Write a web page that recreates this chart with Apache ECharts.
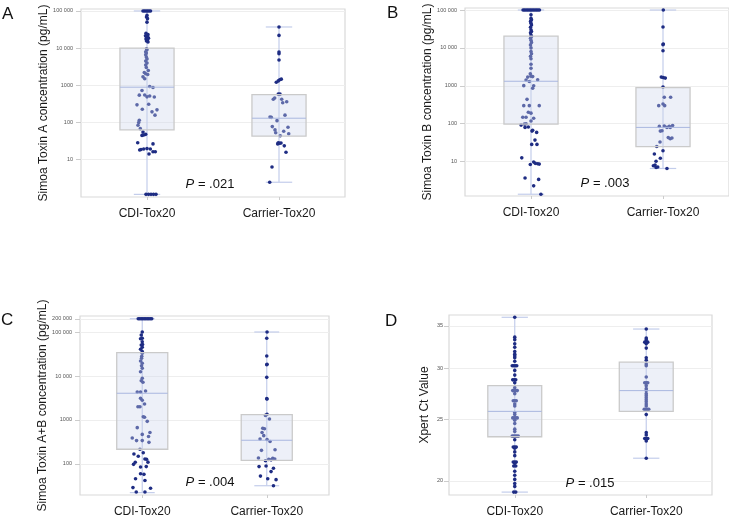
<!DOCTYPE html>
<html><head><meta charset="utf-8">
<script src="https://cdn.jsdelivr.net/npm/echarts@6/dist/echarts.min.js"></script>
<style>html,body{margin:0;padding:0;background:#fff}#c{width:729px;height:519px}</style>
</head><body><div id="c"></div>
<script>
const categories = ['CDI-Tox20', 'Carrier-Tox20'];

// tick labels
const ticksA = [10, 100, 1000, 10000, 100000];
const ticksB = [10, 100, 1000, 10000, 100000];
const ticksC = [100, 1000, 10000, 100000, 200000];
const ticksD = [20, 25, 30, 35];

// box stats [min, Q1, median, Q3, max]
const boxA_CDI = [1.13, 62, 880, 10000, 100000];
const boxA_Car = [2.4, 42, 128, 557, 37000];
const boxB_CDI = [1.38, 98, 1320, 20500, 100000];
const boxB_Car = [6.6, 25, 80, 895, 100000];
const boxC_CDI = [22.3, 216, 4050, 33900, 200000];
const boxC_Car = [32, 121, 346, 1320, 100000];
const boxD_CDI = [19.2, 23.45, 25.7, 28.2, 36.1];
const boxD_Car = [21.7, 25.7, 27.7, 30.7, 34.6];

// individual values
const valsA_CDI = [100000,100000,100000,100000,100000,100000,
  76000,69000,62000,50000,
  25000,23000,21500,20000,19000,18500,17500,16500,15500,14500,
  9500,9000,7900,7300,6600,5700,5100,4450,3940,3470,2990,2480,
  2190,2020,1940,1670,1480,917,860,714,537,540,483,510,480,
  294,224,306,190,215,155,113,98,83,67,54,47,45,44,
  28,26,17.8,18.4,19,19.4,19,16,13.9,16,
  1.13,1.13,1.13,1.13,1.13];
const valsA_Car = [37000,21900,7800,7000,4740,1200,1300,1390,1450,570,570,417,450,417,333,355,
  155,137,135,110,76,62,52,57,73,49,43,28,27,26,27.5,23,15.5,6.2,2.4];
const valsB_CDI = [100000,100000,100000,100000,100000,100000,100000,100000,100000,100000,100000,100000,
  75000,60000,55000,50000,45000,40000,35000,30000,27000,25000,22000,20000,18000,16000,14000,12000,10000,
  8000,7000,6000,5200,3700,2900,2070,1800,1700,1750,1430,1300,1450,1010,1000,860,
  440,300,300,300,200,190,148,148,140,118,92,98,100,82,80,
  64,67,59,37,28.5,28.5,12.6,8.4,9.8,9,8.8,8.6,3.7,3.4,2.3,1.38];
const valsB_Car = [100000,35500,12600,12200,8400,1700,1650,1600,930,500,500,300,330,300,
  87,85,80,85,90,80,65,64,43,40,42,33,25,19.3,15.9,12.3,10.2,8.1,7.8,7.2,7.0,6.6];
const valsC_CDI = [200000,200000,200000,200000,200000,200000,200000,200000,200000,200000,
  100000,85000,72000,70000,60000,52000,50600,45000,40600,36000,32800,28000,25300,21900,19500,17000,15000,12500,
  8900,7800,7200,4300,4300,4550,3100,2800,2300,2000,2000,1180,1150,930,
  670,520,470,420,390,340,340,310,216,168,180,150,130,128,110,109,98,85,87,
  60,58,46,42,29,28,23,23];
const valsC_Car = [100000,72000,28500,18500,18000,9300,3050,3000,1270,1350,1050,650,630,520,440,370,360,325,
  204,210,137,118,127,124,135,130,87,90,80,67,53,46,44,32];
const valsD_CDI = [36.1,33.6,33.3,32.8,32.4,31.9,31.6,31.4,31.2,30.8,
  30.3,30.3,30.3,30.3,29.8,29.3,28.8,28.8,28.8,28.5,28.0,
  27.7,27.7,27.7,27.7,27.4,26.7,26.7,26.7,26.4,26.2,25.6,25.4,
  25.1,25.1,25.1,25.1,24.9,24.6,24.1,23.9,
  23.5,23.5,23.5,23.5,23.5,23.2,22.6,22.6,22.6,22.5,22.2,21.9,
  21.4,21.4,21.4,21.3,21.1,21.1,20.7,20.4,20.1,19.8,19.6,19.2,19.2];
const valsD_Car = [34.6,33.5,33.3,33.0,33.0,33.0,32.8,32.3,31.2,30.9,30.5,30.3,
  29.1,28.5,28.5,28.5,28.2,27.9,27.7,27.4,27.2,27.0,26.8,26.6,26.4,26.2,
  25.9,25.9,25.9,25.9,25.4,23.8,23.6,23.3,23.3,23.3,23.1,21.7];

// horizontal jitter of each point (px)
const jitA_CDI = [-4,-2.5,-1,0.5,2,3.5,
  0,-0.5,0.5,0,
  -1,1,-1.5,0.5,-0.5,1.5,-1,0.5,-0.5,1,
  -0.5,0,-1.3,-0.7,-1.3,-0.7,0,-1.3,0,-1.3,-0.7,1.3,
  -2.7,-1.3,0.7,-4,-2.3,2.7,6,-5,-7.7,-2.3,0,2.7,7.3,
  -10,-4.7,1.7,5,10,8,-7.7,-8.3,-9,-6.7,-4,-1.3,-3.3,-5,
  -9.3,6,-7.3,-6,-3.3,0,3.3,6,2,8.3,
  -1,1.5,4,6.5,9];
const jitA_Car = [0,0,0,0,0,-2.7,-0.7,0.7,2.3,-0.7,1,-5.7,-4.3,2.7,3.7,7.7,
  6,-9,-7.7,-2,-6.7,-4,-3.3,4.7,9,9.7,1.3,-0.7,0.7,-1.3,2,5.3,7,-7,-9.3];
const jitB_CDI = [-8,-6.5,-5,-3.5,-2,-0.5,1,2.5,4,5.5,7,8.5,
  0,0,0.5,-0.5,0,0.5,-0.5,0,0.5,-0.5,0,0.5,-0.5,0,0.5,-0.5,0,
  0,0.5,-0.5,0,0,0,-0.7,0,-3.3,1.7,-5,-1.7,6.7,-7.3,2.7,1.7,
  -4,-7.3,-1.7,8.3,-2.7,0,-8.3,-5,2.7,0,-10,-6.7,-5,-2.7,-6,
  1,1.7,5.7,4,0.7,6,-9.3,-0.7,2.7,4.3,6.7,8.3,-6,7.7,2.7,10];
const jitB_Car = [0.3,0,0.3,0,0,-1.7,0.3,2.3,0,1.3,7.7,-4.3,0,1.7,
  1.3,-3.7,4,6.3,9.7,7.3,-1,-2.7,5.3,7.3,9,-3,-6.3,0,-8.7,-2.7,-7,-8,-9.7,-5.3,-7,4];
const jitC_CDI = [-4,-2.5,-1,0.5,2,3.5,5,6.5,8,9.5,
  0,-1,0,-1.7,0,0.3,-1,0,-1.7,0,0,-0.5,-0.7,-1.7,0,-0.7,0,-1.7,
  0,-1,0.7,-1.7,-5,3.3,-1.7,0,2.3,-4.3,-2.3,1,2.3,5,
  -5,7.7,0,6.3,-10,-5.7,0,6.7,-2.3,-8.3,1,-4,2.7,4.3,5.7,-7,-8.7,-1.7,4,
  -1.7,1.7,-6.7,2.7,-9.3,8.3,-6,2.7];
const jitC_Car = [0.3,0,0,0.3,0,0,0,0.3,-1.3,0.3,2.7,-4,-2.3,-4.7,-3,-6.7,0.3,3.3,
  -5.3,8.3,-8.3,-1.3,2,4.3,6,8,-7.7,-0.7,6.7,4.3,-6.3,1,9.3,6.7];
const jitD_CDI = [0,0,0,0,0,0,0,0,0,0,
  -2.5,-1,0.5,2,0,0,-2,-0.5,1,0,0,
  -2,-0.5,1,2.5,0,-1.5,0,1.5,0,0,0,0,
  -2,-0.5,1,2.5,0,0,0,0,
  -2.5,-1,0.5,2,3.5,0,-1.5,0,1.5,0,0,0,
  -1.5,0,1.5,0,-1,1,0,0,0,0,0,-1,1];
const jitD_Car = [0,0,0,-1.5,0,1.5,0,0,0,0,0,0,
  0,-1.5,0,1.5,0,0,0,0,0,0,0,0,0,0,
  -2,-0.5,1,2.5,0,0,0,-1.5,0,1.5,0,0];

const pTexts = ['.021', '.003', '.004', '.015'];

const panels = [
  {grid:{left:81, top:9, width:264, height:188}, yMin:0.96, yMax:113000, ticks:ticksA,
   name:'Simoa Toxin A concentration (pg/mL)', nameGap:30, lm:8,
   boxes:[boxA_CDI, boxA_Car], vals:[valsA_CDI, valsA_Car], jit:[jitA_CDI, jitA_Car],
   letter:'A', lx:2, ly:14, px:210, py:184},
  {grid:{left:465, top:8, width:266, height:188}, yMin:1.24, yMax:113000, ticks:ticksB,
   name:'Simoa Toxin B concentration (pg/mL)', nameGap:31, lm:8,
   boxes:[boxB_CDI, boxB_Car], vals:[valsB_CDI, valsB_Car], jit:[jitB_CDI, jitB_Car],
   letter:'B', lx:387, ly:13, px:605, py:183},
  {grid:{left:80, top:316, width:249, height:179}, yMin:19.7, yMax:231000, ticks:ticksC,
   name:'Simoa Toxin A+B concentration (pg/mL)', nameGap:29, lm:8,
   boxes:[boxC_CDI, boxC_Car], vals:[valsC_CDI, valsC_Car], jit:[jitC_CDI, jitC_Car],
   letter:'C', lx:1, ly:320, px:210, py:482},
  {grid:{left:449, top:315, width:263, height:180}, yMin:19.0, yMax:36.4, ticks:ticksD,
   name:'Xpert Ct Value', nameGap:18, lm:6,
   boxes:[boxD_CDI, boxD_Car], vals:[valsD_CDI, valsD_Car], jit:[jitD_CDI, jitD_Car],
   letter:'D', lx:385, ly:321, px:590, py:483}
];

function fmtTick(v) {
  const n = Math.round(v);
  const s = String(n);
  return n >= 10000 ? s.slice(0, -3) + ' ' + s.slice(-3) : s;
}

function whiskerItem(params, api) {
  const c = api.value(0);
  const pMin = api.coord([c, api.value(1)]);
  const pMax = api.coord([c, api.value(5)]);
  const band = params.coordSys.width / 2;
  const cap = band * 0.2 / 2;
  const st = {stroke:'#c3cdeb', lineWidth:1.2};
  return {type:'group', children:[
    {type:'line', shape:{x1:pMin[0], y1:pMin[1], x2:pMax[0], y2:pMax[1]}, style:st},
    {type:'line', shape:{x1:pMin[0]-cap, y1:pMin[1], x2:pMin[0]+cap, y2:pMin[1]}, style:st},
    {type:'line', shape:{x1:pMax[0]-cap, y1:pMax[1], x2:pMax[0]+cap, y2:pMax[1]}, style:st}
  ]};
}
function boxItem(params, api) {
  const c = api.value(0);
  const q1 = api.coord([c, api.value(2)]);
  const md = api.coord([c, api.value(3)]);
  const q3 = api.coord([c, api.value(4)]);
  const band = params.coordSys.width / 2;
  const hw = band * 0.41 / 2;
  return {type:'group', children:[
    {type:'rect', shape:{x:q1[0]-hw, y:q3[1], width:hw*2, height:q1[1]-q3[1]},
     style:{fill:'rgba(204,213,236,0.36)', stroke:'#cacaca', lineWidth:1.3}},
    {type:'line', shape:{x1:md[0]-hw, y1:md[1], x2:md[0]+hw, y2:md[1]},
     style:{stroke:'#a9b7df', lineWidth:1}}
  ]};
}

const option = {
  animation:false,
  backgroundColor:'#fff',
  grid:[], xAxis:[], yAxis:[], series:[], graphic:[]
};
const baseFont = 'Liberation Sans, Arial, sans-serif';

panels.forEach((p, i) => {
  option.grid.push(Object.assign({show:true, borderColor:'#d9d9d9', borderWidth:1.2, backgroundColor:'transparent'}, p.grid));
  option.xAxis.push({type:'category', gridIndex:i, data:categories,
    axisLine:{show:false},
    axisTick:{show:true, alignWithLabel:true, length:3, lineStyle:{color:'#cccccc'}},
    axisLabel:{fontSize:12, color:'#1a1a1a', margin:11, fontFamily:baseFont},
    splitLine:{show:false}});
  option.xAxis.push({type:'value', gridIndex:i, min:0, max:2, show:false});
  option.yAxis.push({type:'log', gridIndex:i, min:p.yMin, max:p.yMax, logBase:10,
    name:p.name, nameLocation:'middle', nameGap:p.nameGap,
    nameTextStyle:{fontSize:12, color:'#1a1a1a', fontFamily:baseFont},
    axisLine:{show:false},
    axisTick:{show:true, length:5, lineStyle:{color:'#cccccc'}, customValues:p.ticks},
    axisLabel:{fontSize:5.5, color:'#555', margin:p.lm, fontFamily:baseFont, customValues:p.ticks,
      formatter:(v) => fmtTick(v)},
    splitLine:{show:true, lineStyle:{color:'#eeeeee', width:1}}});

  const boxData = p.boxes.map((b, k) => [k].concat(b));
  option.series.push({type:'custom', xAxisIndex:2*i, yAxisIndex:i, z:2,
    renderItem:whiskerItem, data:boxData, encode:{x:0, y:[1,2,3,4,5]}, silent:true});
  const band = p.grid.width / 2;
  const pts = [];
  p.vals.forEach((arr, k) => {
    arr.forEach((v, j) => pts.push([k + 0.5 + p.jit[k][j] / band, v]));
  });
  option.series.push({type:'scatter', xAxisIndex:2*i+1, yAxisIndex:i, z:3,
    symbol:'circle', symbolSize:3.6, itemStyle:{color:'#1e2c83', opacity:1}, data:pts, silent:true});
  option.series.push({type:'custom', xAxisIndex:2*i, yAxisIndex:i, z:4,
    renderItem:boxItem, data:boxData, encode:{x:0, y:[1,2,3,4,5]}, silent:true});

  option.graphic.push({type:'text', x:p.lx, y:p.ly, z:10,
    style:{text:p.letter, fontSize:17, fill:'#111', fontFamily:baseFont, verticalAlign:'middle', align:'left'}});
  option.graphic.push({type:'text', x:p.px, y:p.py, z:10,
    style:{text:'{i|P} = ' + pTexts[i], fontSize:13, fill:'#111', fontFamily:baseFont,
      align:'center', verticalAlign:'middle',
      rich:{i:{fontStyle:'italic', fontSize:13, fill:'#111', fontFamily:baseFont}}}});
});

const chart = echarts.init(document.getElementById('c'), null, {renderer:'canvas'});
chart.setOption(option);
</script>
</body></html>
